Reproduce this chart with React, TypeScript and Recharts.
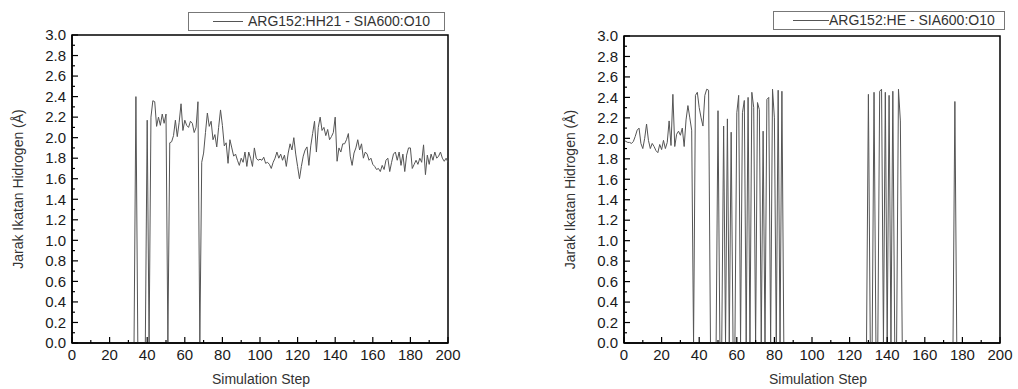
import {
  Label,
  Legend,
  Line,
  LineChart,
  ReferenceArea,
  XAxis,
  YAxis,
} from "recharts";

// H-bond distance (Å) per simulation step 0..200.
// 0 = bond absent at that step.
const hh21Distance = [
  0, 0, 0, 0, 0, 0, 0, 0, 0, 0,
  0, 0, 0, 0, 0, 0, 0, 0, 0, 0,
  0, 0, 0, 0, 0, 0, 0, 0, 0, 0,
  0, 0, 0, 0, 2.4, 0, 0, 0, 0, 0,
  2.17, 0, 2.2, 2.36, 2.35, 2.11, 2.2, 2.12, 2.23, 2.14,
  2.23, 0, 1.95, 1.96, 2.02, 2.17, 2.01, 2.15, 2.33, 2.07,
  2.17, 2.12, 2.1, 2.16, 2.14, 2.05, 2.1, 2.35, 0, 1.76,
  1.85, 2.05, 2.24, 2.11, 2.16, 1.98, 2.03, 1.91, 2.1, 2.27,
  2.12, 1.92, 1.95, 1.75, 1.98, 1.9, 1.82, 1.84, 1.78, 1.73,
  1.8, 1.76, 1.86, 1.72, 1.86, 1.8, 1.72, 1.9, 1.8, 1.78,
  1.79, 1.78, 1.81, 1.75, 1.76, 1.74, 1.7, 1.76, 1.8, 1.86,
  1.8, 1.84, 1.78, 1.83, 1.72, 1.85, 1.94, 1.88, 2.0, 1.84,
  1.72, 1.6, 1.72, 1.82, 1.88, 1.91, 1.73, 1.92, 2.04, 2.16,
  1.86, 2.1, 2.2, 2.07, 2.1, 2.02, 2.08, 1.98, 2.01, 2.05,
  2.2, 1.77, 1.9, 1.86, 1.94, 1.94, 1.98, 2.04, 1.82, 1.73,
  1.85, 1.9, 1.98, 1.88, 1.94, 1.8, 1.86, 1.84, 1.78, 1.8,
  1.74, 1.72, 1.69, 1.7, 1.67, 1.73, 1.69, 1.78, 1.8, 1.67,
  1.76, 1.84, 1.86, 1.78, 1.86, 1.73, 1.84, 1.67, 1.83, 1.9,
  1.9, 1.7, 1.74, 1.78, 1.74, 1.8, 1.76, 1.93, 1.64, 1.83,
  1.74, 1.84, 1.78, 1.86, 1.8, 1.82, 1.86, 1.8, 1.77, 1.8,
  1.76,
];

const heDistance = [
  1.98, 1.97, 1.96, 1.96, 1.95, 1.97, 2.02, 2.08, 2.1, 1.95,
  1.9, 2.0, 2.14, 1.98, 1.9, 1.95, 1.92, 1.88, 1.86, 1.94,
  1.89, 1.98, 1.9, 1.96, 2.17, 1.93, 2.43, 1.92, 2.04, 2.07,
  2.03, 2.1, 1.92, 2.18, 2.32, 2.2, 2.08, 0, 2.42, 2.45,
  2.3, 2.2, 2.12, 2.42, 2.48, 2.47, 0, 0, 0, 0,
  2.27, 0, 0, 2.12, 0, 2.19, 0, 2.06, 0, 0,
  2.25, 2.42, 0, 2.25, 2.37, 0, 2.4, 0, 2.45, 2.3,
  0, 2.35, 2.28, 0, 2.07, 0, 2.38, 2.4, 0, 2.48,
  2.2, 0, 2.47, 0, 2.46, 0, 0, 0, 0, 0,
  0, 0, 0, 0, 0, 0, 0, 0, 0, 0,
  0, 0, 0, 0, 0, 0, 0, 0, 0, 0,
  0, 0, 0, 0, 0, 0, 0, 0, 0, 0,
  0, 0, 0, 0, 0, 0, 0, 0, 0, 0,
  2.43, 0, 0, 2.45, 0, 0, 2.46, 2.48, 0, 2.45,
  0, 2.42, 0, 2.46, 0, 0, 2.48, 2.17, 0, 0,
  0, 0, 0, 0, 0, 0, 0, 0, 0, 0,
  0, 0, 0, 0, 0, 0, 0, 0, 0, 0,
  0, 0, 0, 0, 0, 0, 2.36, 0, 0, 0,
  0, 0, 0, 0, 0, 0, 0, 0, 0, 0,
  0, 0, 0, 0, 0, 0, 0, 0, 0, 0,
  0,
];

const xTicks = [
  0, 10, 20, 30, 40, 50, 60, 70, 80, 90, 100, 110, 120, 130, 140, 150, 160,
  170, 180, 190, 200,
];
const yTicks = [
  0, 0.1, 0.2, 0.3, 0.4, 0.5, 0.6, 0.7, 0.8, 0.9, 1.0, 1.1, 1.2, 1.3, 1.4,
  1.5, 1.6, 1.7, 1.8, 1.9, 2.0, 2.1, 2.2, 2.3, 2.4, 2.5, 2.6, 2.7, 2.8, 2.9,
  3.0,
];

const FONT = '"Liberation Sans", Arial, sans-serif';
const INK = "#1a1a1a";
const SERIES = "#555";
const TICK_GAP = 6;

function XTick({ x, y, payload }: any) {
  const major = payload.value % 20 === 0;
  const axisY = y - TICK_GAP;
  return (
    <g>
      <line x1={x} x2={x} y1={axisY} y2={axisY - (major ? 6 : 3)} stroke="#000" strokeWidth={1.2} />
      {major && (
        <text x={x} y={y} dy="0.71em" textAnchor="middle" fontSize={15} fontFamily={FONT} fill={INK}>
          {payload.value}
        </text>
      )}
    </g>
  );
}

function YTick({ x, y, payload }: any) {
  const major = Math.round(payload.value * 10) % 2 === 0;
  const axisX = x + TICK_GAP;
  return (
    <g>
      <line x1={axisX} x2={axisX + (major ? 6 : 3)} y1={y} y2={y} stroke="#000" strokeWidth={1.2} />
      {major && (
        <text x={x} y={y} dy="0.35em" textAnchor="end" fontSize={15} fontFamily={FONT} fill={INK}>
          {payload.value.toFixed(1)}
        </text>
      )}
    </g>
  );
}

interface PanelProps {
  values: number[];
  name: string;
  left: number;
  width: number;
  plotLeft: number;
  plotTop: number;
  yTitleX: number;
  xTitleShift: number;
  legend: { left: number; top: number; width: number; height: number; lineFrom: number; lineTo: number; textAt: number };
}

function DistancePanel({ values, name, left, width, plotLeft, plotTop, yTitleX, xTitleShift, legend }: PanelProps) {
  const data = values.map((d, i) => ({ step: i, d }));
  const plotWidth = 376;
  return (
    <div style={{ position: "absolute", left, top: 0 }}>
      <LineChart
        width={width}
        height={389}
        data={data}
        margin={{ top: plotTop, right: width - plotLeft - plotWidth, bottom: 0, left: 0 }}
      >
        <XAxis
          dataKey="step"
          type="number"
          domain={[0, 200]}
          ticks={xTicks}
          interval={0}
          height={46}
          tickSize={0}
          tickMargin={TICK_GAP}
          tick={<XTick />}
          axisLine={{ stroke: "#000", strokeWidth: 1.5 }}
        >
          <Label
            content={({ viewBox }: any) => (
              <text
                x={viewBox.x + viewBox.width / 2 + xTitleShift}
                y={384}
                textAnchor="middle"
                fontSize={14}
                fontFamily={FONT}
                fill="#333"
              >
                Simulation Step
              </text>
            )}
          />
        </XAxis>
        <YAxis
          type="number"
          domain={[0, 3]}
          ticks={yTicks}
          interval={0}
          width={plotLeft}
          tickSize={0}
          tickMargin={TICK_GAP}
          tick={<YTick />}
          axisLine={{ stroke: "#000", strokeWidth: 1.5 }}
        >
          <Label
            content={({ viewBox }: any) => {
              const cy = viewBox.y + viewBox.height / 2;
              return (
                <text
                  x={yTitleX}
                  y={cy}
                  dy="0.35em"
                  textAnchor="middle"
                  fontSize={14}
                  fontFamily={FONT}
                  fill="#333"
                  transform={`rotate(-90, ${yTitleX}, ${cy})`}
                >
                  Jarak Ikatan Hidrogen (Å)
                </text>
              );
            }}
          />
        </YAxis>
        <ReferenceArea x1={0} x2={200} y1={0} y2={3} fill="none" stroke="#000" strokeWidth={1.5} />
        <Legend
          layout="vertical"
          align="center"
          verticalAlign="middle"
          wrapperStyle={{ left: legend.left, top: legend.top, width: legend.width, height: legend.height }}
          content={() => (
            <div
              style={{
                position: "relative",
                width: legend.width,
                height: legend.height,
                boxSizing: "border-box",
                border: "1px solid #777",
                fontFamily: FONT,
                fontSize: 14,
                color: "#333",
              }}
            >
              <svg
                width={legend.width}
                height={legend.height}
                style={{ position: "absolute", left: -1, top: -1 }}
              >
                <line
                  x1={legend.lineFrom}
                  x2={legend.lineTo}
                  y1={legend.height / 2}
                  y2={legend.height / 2}
                  stroke={SERIES}
                  strokeWidth={1}
                />
              </svg>
              <span
                style={{
                  position: "absolute",
                  left: legend.textAt - 1,
                  top: 0,
                  lineHeight: `${legend.height - 2}px`,
                  whiteSpace: "nowrap",
                }}
              >
                {name}
              </span>
            </div>
          )}
        />
        <Line
          dataKey="d"
          name={name}
          type="linear"
          stroke={SERIES}
          strokeWidth={1}
          dot={false}
          activeDot={false}
          isAnimationActive={false}
        />
      </LineChart>
    </div>
  );
}

export default function App() {
  return (
    <div style={{ position: "absolute", left: 0, top: 0, width: 1018, height: 389, background: "#fff", overflow: "hidden" }}>
      <DistancePanel
        values={hh21Distance}
        name="ARG152:HH21 - SIA600:O10"
        left={0}
        width={500}
        plotLeft={72}
        plotTop={35}
        yTitleX={18}
        xTitleShift={1}
        legend={{ left: 188, top: 12, width: 257, height: 19, lineFrom: 25, lineTo: 55, textAt: 60 }}
      />
      <DistancePanel
        values={heDistance}
        name="ARG152:HE - SIA600:O10"
        left={500}
        width={518}
        plotLeft={124}
        plotTop={36}
        yTitleX={70}
        xTitleShift={6}
        legend={{ left: 273, top: 11, width: 232, height: 19, lineFrom: 20, lineTo: 56, textAt: 56 }}
      />
    </div>
  );
}
